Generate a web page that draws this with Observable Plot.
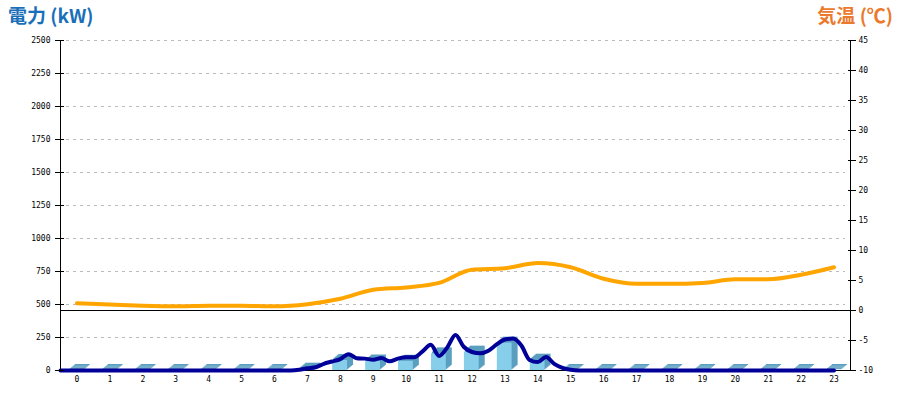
<!DOCTYPE html>
<html><head><meta charset="utf-8">
<script src="https://cdn.jsdelivr.net/npm/d3@7"></script>
<script src="https://cdn.jsdelivr.net/npm/@observablehq/plot@0.6"></script>
<style>
body{margin:0;background:#fff;}
#wrap{position:relative;width:900px;height:400px;}
#wrap svg{position:absolute;left:0;top:0;}
.t{position:absolute;top:3px;font:bold 19px "Noto Sans CJK JP",sans-serif;line-height:24px;white-space:nowrap;}
#tl{left:8px;color:#1a70b8;}
#tr{right:7px;color:#ec7a2c;}
</style></head><body>
<div id="wrap"></div>
<script>
// categories
const hours = [0,1,2,3,4,5,6,7,8,9,10,11,12,13,14,15,16,17,18,19,20,21,22,23];
// hourly power bars (kW)
const powerHourly = [0,0,0,0,0,0,0,10,76,72,70,126,139,207,78,0,0,0,0,0,0,0,0,0];
// 15-minute power line (kW), 0:00 .. 24:00
const powerDetail = [
  0,0,0,0, 0,0,0,0, 0,0,0,0, 0,0,0,0, 0,0,0,0, 0,0,0,0, 0,0,0,0,
  0,5,17,25, 51,68,86,124, 93,90,82,94, 70,90,100,100, 145,195,110,175,
  268,180,140,130, 150,198,235,242, 190,80,64,102, 50,20,5,0,
  0,0,0,0, 0,0,0,0, 0,0,0,0, 0,0,0,0, 0,0,0,0, 0,0,0,0, 0,0,0,0, 0,0,0
];
// hourly temperature (°C)
const temperature = [1.2,1.0,0.8,0.7,0.8,0.8,0.7,1.05,1.95,3.45,3.85,4.6,6.8,7.05,7.9,7.2,5.3,4.45,4.45,4.6,5.2,5.2,5.95,7.2];
// tick labels
const powerTicks = [0,250,500,750,1000,1250,1500,1750,2000,2250,2500];
const tempTicks = [-10,-5,0,5,10,15,20,25,30,35,40,45];

const P_MAX = 2500, T_MIN = -10, T_MAX = 45;
const toP = t => (t - T_MIN) * P_MAX / (T_MAX - T_MIN);
const toT = p => Math.round(p * (T_MAX - T_MIN) / P_MAX + T_MIN);

const bars = hours.map((h, i) => ({h, v: powerHourly[i]}));
const depth = [6,5,4,3,2,1];
const barLayers = depth.map(k => Plot.rect(bars, {
  x1: d => d.h + 0.27, x2: d => d.h + 0.72, y1: 0, y2: "v",
  fill: "#5b9fc0", dx: k, dy: -k * 5 / 6, insetTop: -1
}));

const chart = Plot.plot({
  width: 900, height: 400,
  marginLeft: 60, marginRight: 50, marginTop: 40, marginBottom: 30,
  x: {domain: [0, 24]},
  y: {domain: [0, P_MAX]},
  style: {fontFamily: "'DejaVu Sans Mono', monospace", fontSize: "8px", background: "white", color: "#000"},
  marks: [
    Plot.ruleY(powerTicks, {y: d => d, insetLeft: 6, insetRight: 5, stroke: "#bbb", strokeDasharray: "3,4"}),
    Plot.ruleY([0], {y: () => toP(0), stroke: "#000"}),
    ...barLayers,
    Plot.rect(bars, {x1: d => d.h + 0.27, x2: d => d.h + 0.72, y1: 0, y2: "v", fill: "#87ceeb"}),
    Plot.ruleY([0], {stroke: "#000"}),
    Plot.line(powerDetail, {x: (d, i) => i / 4, y: d => d, stroke: "#000099", strokeWidth: 4, curve: "monotone-x"}),
    Plot.line(temperature, {x: (d, i) => hours[i] + 0.5, y: d => toP(d), stroke: "#ffa500", strokeWidth: 4, curve: "monotone-x"}),
    Plot.ruleX([0, 24], {stroke: "#000"}),
    Plot.axisY(powerTicks, {anchor: "left", tickSize: 5, tickPadding: 5, label: null, tickFormat: d => String(d)}),
    Plot.axisY(powerTicks, {anchor: "left", tickSize: 9, dx: 4, label: null, tickFormat: () => ""}),
    Plot.axisY(tempTicks.map(toP), {anchor: "right", tickSize: 5, tickPadding: 3, label: null, tickFormat: p => String(toT(p))}),
    Plot.axisY(tempTicks.map(toP), {anchor: "right", tickSize: 8, dx: -3, label: null, tickFormat: () => ""}),
    Plot.axisX(hours.map(h => h + 0.5), {anchor: "bottom", tickSize: 0, tickPadding: 6, label: null, tickFormat: d => String(d - 0.5)})
  ]
});
const wrap = document.getElementById("wrap");
wrap.appendChild(chart);
const tl = document.createElement("div"); tl.className = "t"; tl.id = "tl"; tl.textContent = "電力 (kW)";
const tr = document.createElement("div"); tr.className = "t"; tr.id = "tr"; tr.textContent = "気温 (℃)";
wrap.appendChild(tl); wrap.appendChild(tr);
</script>
</body></html>
